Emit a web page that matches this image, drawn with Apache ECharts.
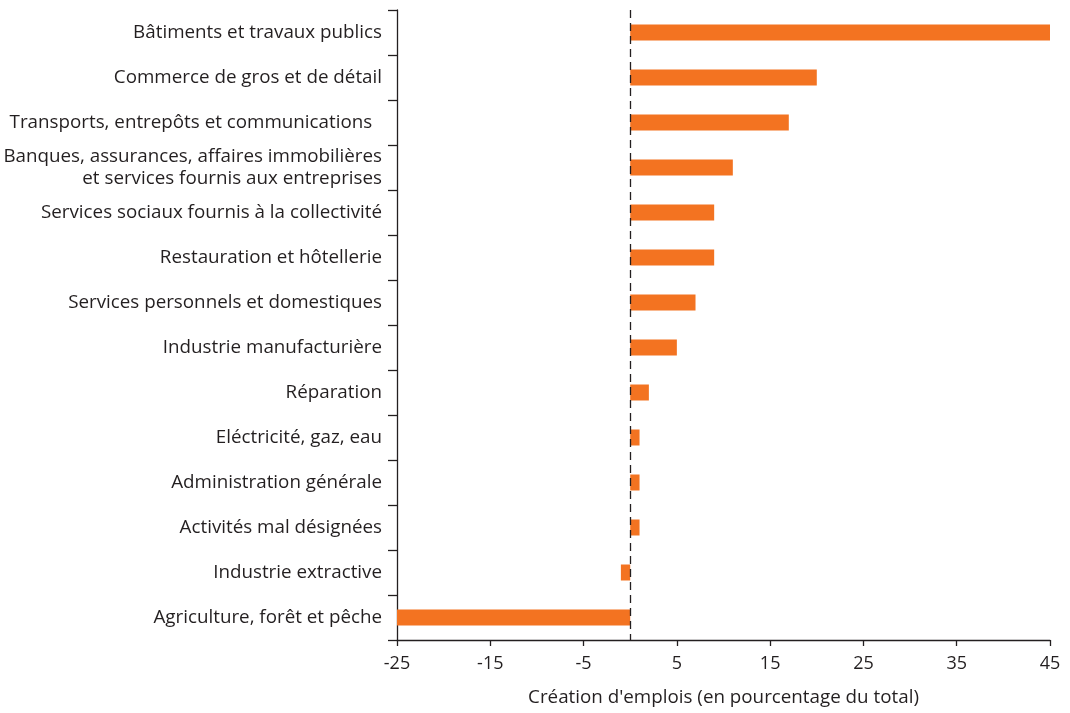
<!DOCTYPE html>
<html><head><meta charset="utf-8">
<script src="https://cdn.jsdelivr.net/npm/echarts@6/dist/echarts.min.js"></script>
<style>html,body{margin:0;padding:0;background:#fff}#c{width:1070px;height:713px}</style>
</head><body><div id="c"></div>
<script>
const categories = [
  "Bâtiments et travaux publics",
  "Commerce de gros et de détail",
  "Transports, entrepôts et communications  ",
  "Banques, assurances, affaires immobilières\net services fournis aux entreprises",
  "Services sociaux fournis à la collectivité",
  "Restauration et hôtellerie",
  "Services personnels et domestiques",
  "Industrie manufacturière",
  "Réparation",
  "Eléctricité, gaz, eau",
  "Administration générale",
  "Activités mal désignées",
  "Industrie extractive",
  "Agriculture, forêt et pêche"
];
const values = [45, 20, 17, 11, 9, 9, 7, 5, 2, 1, 1, 1, -1, -25];
const xTicks = [-25, -15, -5, 5, 15, 25, 35, 45];
const axisTitle = "Création d'emplois (en pourcentage du total)";

const FONT = "Open Sans";
const INK = "#231f20";
const chart = echarts.init(document.getElementById('c'), null, {renderer: 'canvas'});
chart.setOption({
  animation: false,
  grid: {left: 397, right: 20, top: 10, bottom: 73, containLabel: false},
  xAxis: {
    type: 'value', min: -25, max: 45,
    name: axisTitle, nameLocation: 'middle', nameGap: 48,
    nameTextStyle: {fontFamily: FONT, fontSize: 18.8, color: INK},
    axisLine: {show: true, lineStyle: {color: INK, width: 1.3}},
    axisTick: {show: true, length: 6, customValues: xTicks, lineStyle: {color: INK, width: 1.3}},
    axisLabel: {customValues: xTicks, margin: 15, fontFamily: FONT, fontSize: 18, color: INK},
    splitLine: {show: false}
  },
  yAxis: {
    type: 'category', data: categories, inverse: true,
    axisLine: {show: true, onZero: false, lineStyle: {color: INK, width: 1.3}},
    axisTick: {show: true, length: 9, lineStyle: {color: INK, width: 1.3}},
    axisLabel: {margin: 15, fontFamily: FONT, fontSize: 18.8, color: INK, lineHeight: 22, align: 'right'}
  },
  series: [{
    type: 'bar', data: values, barWidth: 16,
    itemStyle: {color: '#f37321'},
    markLine: {
      silent: true, symbol: 'none',
      label: {show: false},
      lineStyle: {color: INK, type: [8, 5], width: 1.3},
      data: [{xAxis: 0}]
    }
  }]
});
</script></body></html>
